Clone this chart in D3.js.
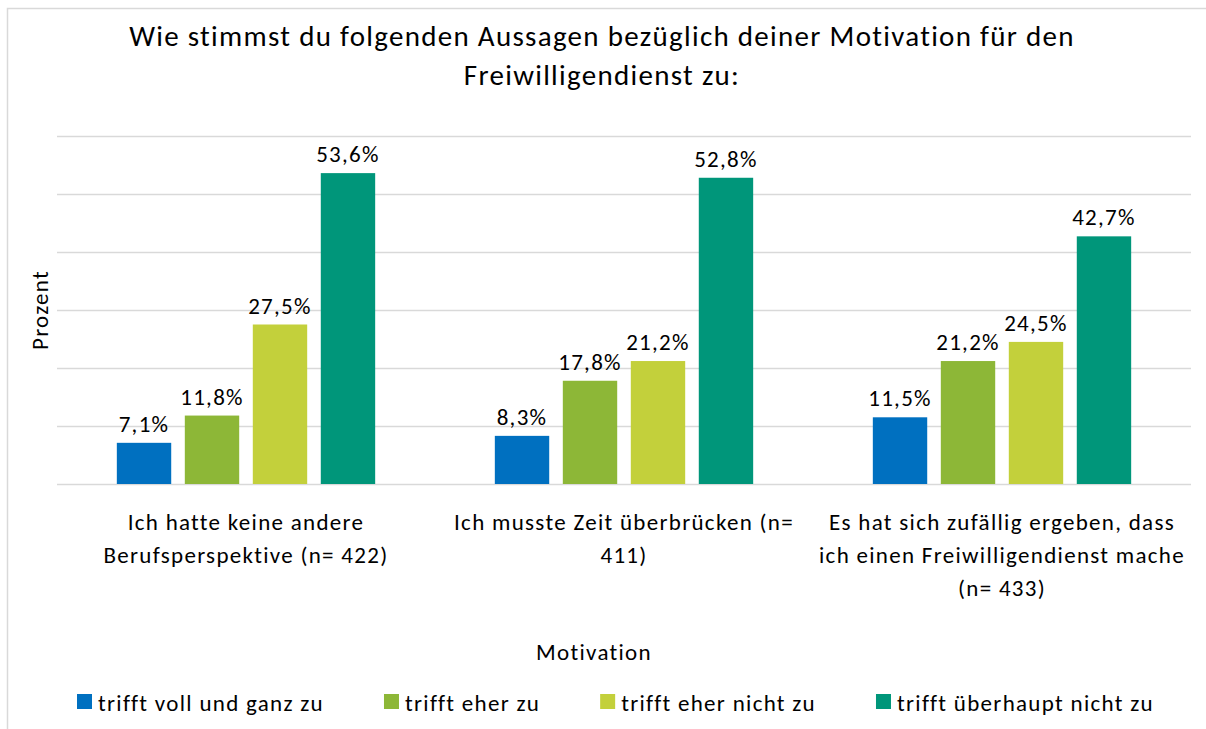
<!DOCTYPE html>
<html>
<head>
<meta charset="utf-8">
<script src="https://cdn.jsdelivr.net/npm/d3@7"></script>
<style>
  body { margin: 0; background: #fff; }
  svg text { font-family: Carlito, Lato, "Open Sans", sans-serif; fill: #000; letter-spacing: 1.3px; }
</style>
</head>
<body>
<div id="chart"></div>
<script>
// data
const categories = [
  ['Ich hatte keine andere', 'Berufsperspektive (n= 422)'],
  ['Ich musste Zeit überbrücken (n=', '411)'],
  ['Es hat sich zufällig ergeben, dass', 'ich einen Freiwilligendienst mache', '(n= 433)']
];
const seriesNames = ['trifft voll und ganz zu', 'trifft eher zu', 'trifft eher nicht zu', 'trifft überhaupt nicht zu'];
const vollGanz = [7.1, 8.3, 11.5];
const eher = [11.8, 17.8, 21.2];
const eherNicht = [27.5, 21.2, 24.5];
const ueberhauptNicht = [53.6, 52.8, 42.7];
const yTicks = [0, 10, 20, 30, 40, 50, 60];

const colors = ['#0070c0', '#8db737', '#c3d03b', '#00967a'];
const series = [vollGanz, eher, eherNicht, ueberhauptNicht];

const width = 1206, height = 729;
const plot = { left: 57, right: 1191, top: 136, bottom: 484 };

const svg = d3.select('#chart').append('svg')
  .attr('width', width)
  .attr('height', height);

// chart frame (partially visible)
svg.append('path')
  .attr('d', `M7.5,${height} V8.5 H${width}`)
  .attr('fill', 'none')
  .attr('stroke', '#d9d9d9')
  .attr('stroke-width', 1.5);

// title
const title = svg.append('text')
  .attr('text-anchor', 'middle')
  .style('font-size', '29px');
title.append('tspan')
  .attr('x', 602).attr('y', 46)
  .text('Wie stimmst du folgenden Aussagen bezüglich deiner Motivation für den');
title.append('tspan')
  .attr('x', 602).attr('y', 85)
  .text('Freiwilligendienst zu:');

// scales
const x0 = d3.scaleBand()
  .domain(d3.range(categories.length))
  .range([plot.left, plot.right]);

const x1 = d3.scaleBand()
  .domain(d3.range(series.length))
  .range([0, x0.bandwidth()])
  .paddingInner(0.2)
  .paddingOuter(0.88);

const y = d3.scaleLinear()
  .domain([0, 60])
  .range([plot.bottom, plot.top]);

// gridlines
svg.append('g')
  .selectAll('line')
  .data(yTicks)
  .join('line')
  .attr('x1', plot.left).attr('x2', plot.right)
  .attr('y1', d => y(d) + 0.5).attr('y2', d => y(d) + 0.5)
  .attr('stroke', '#d9d9d9')
  .attr('stroke-width', 1.5);

// bars
const fmt = v => d3.format('.1f')(v).replace('.', ',') + '%';
const groups = svg.append('g')
  .selectAll('g')
  .data(categories)
  .join('g')
  .attr('transform', (d, i) => `translate(${x0(i)},0)`);

groups.each(function(c, ci) {
  const g = d3.select(this);
  const vals = series.map((s, si) => ({ si, v: s[ci] }));
  g.selectAll('rect')
    .data(vals)
    .join('rect')
    .attr('x', d => x1(d.si))
    .attr('y', d => y(d.v))
    .attr('width', x1.bandwidth())
    .attr('height', d => y(0) - y(d.v))
    .attr('fill', d => colors[d.si]);
  g.selectAll('text')
    .data(vals)
    .join('text')
    .attr('x', d => x1(d.si) + x1.bandwidth() / 2)
    .attr('y', d => y(d.v) - 11)
    .attr('text-anchor', 'middle')
    .style('font-size', '23px')
    .text(d => fmt(d.v));
});

// category labels
svg.append('g')
  .selectAll('text')
  .data(categories)
  .join('text')
  .attr('text-anchor', 'middle')
  .style('font-size', '23px')
  .each(function(lines, i) {
    d3.select(this).selectAll('tspan')
      .data(lines)
      .join('tspan')
      .attr('x', x0(i) + x0.bandwidth() / 2)
      .attr('y', (l, li) => 530 + li * 33)
      .text(l => l);
  });

// axis titles
svg.append('text')
  .attr('transform', `translate(48,${(plot.top + plot.bottom) / 2}) rotate(-90)`)
  .attr('text-anchor', 'middle')
  .style('font-size', '23px')
  .text('Prozent');

svg.append('text')
  .attr('x', 594).attr('y', 660)
  .attr('text-anchor', 'middle')
  .style('font-size', '23px')
  .text('Motivation');

// legend
const legend = svg.append('g');
let lx = 77;
seriesNames.forEach((name, i) => {
  const item = legend.append('g').attr('transform', `translate(${lx},0)`);
  item.append('rect')
    .attr('x', 0).attr('y', 694)
    .attr('width', 15).attr('height', 15)
    .attr('fill', colors[i]);
  const t = item.append('text')
    .attr('x', 21).attr('y', 711)
    .style('font-size', '23px')
    .text(name);
  lx += 21 + t.node().getComputedTextLength() + 60;
});
</script>
</body>
</html>
